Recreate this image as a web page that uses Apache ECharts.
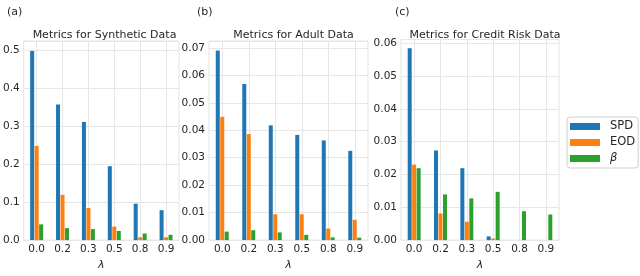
<!DOCTYPE html>
<html>
<head>
<meta charset="utf-8">
<script src="https://cdn.jsdelivr.net/npm/echarts@6/dist/echarts.min.js"></script>
<style>html,body{margin:0;padding:0;background:#fff;}#c{width:640px;height:276px;}</style>
</head>
<body>
<div id="c"></div>
<script>
const categories = ['0.0', '0.2', '0.3', '0.5', '0.8', '0.9'];
const seriesNames = ['SPD', 'EOD', 'β'];
const panelTitles = ['Metrics for Synthetic Data', 'Metrics for Adult Data', 'Metrics for Credit Risk Data'];
const panelLetters = ['(a)', '(b)', '(c)'];

const synSPD = [0.498, 0.357, 0.311, 0.1945, 0.096, 0.0787];
const synEOD = [0.2476, 0.119, 0.0845, 0.0356, 0.0075, 0.0075];
const synBeta = [0.0414, 0.0315, 0.029, 0.024, 0.0174, 0.014];

const adultSPD = [0.069, 0.0568, 0.0418, 0.0383, 0.0363, 0.0325];
const adultEOD = [0.0449, 0.0386, 0.0094, 0.0094, 0.0042, 0.0074];
const adultBeta = [0.0031, 0.0036, 0.0028, 0.0019, 0.001, 0.0009];

const creditSPD = [0.0584, 0.0273, 0.0219, 0.00115, 0, 0];
const creditEOD = [0.023, 0.0081, 0.0056, 0.0005, 0, 0];
const creditBeta = [0.0219, 0.0139, 0.0127, 0.0147, 0.0088, 0.0078];

const yMax = [0.524, 0.0725, 0.0611];
const yInterval = [0.1, 0.01, 0.01];
const yDecimals = [1, 2, 2];

const panels = [
  [synSPD, synEOD, synBeta],
  [adultSPD, adultEOD, adultBeta],
  [creditSPD, creditEOD, creditBeta]
];
const colors = ['#1f77b4', '#ff7f0e', '#2ca02c'];

const grids = [
  {left: 20, right: 461, top: 41, bottom: 24},
  {left: 209, right: 272, top: 41, bottom: 24},
  {left: 401, right: 81, top: 39.5, bottom: 24}
];
const font = 'DejaVu Sans';

const option = {
  animation: false,
  backgroundColor: '#fff',
  textStyle: {fontFamily: font},
  grid: grids.map(g => Object.assign({show: true, borderColor: '#e3e3e3', borderWidth: 1, backgroundColor: 'transparent'}, g)),
  title: [],
  xAxis: [],
  yAxis: [],
  series: [],
  legend: {
    orient: 'vertical',
    left: 567, top: 117,
    data: seriesNames,
    icon: 'rect',
    itemWidth: 30, itemHeight: 7, itemGap: 3,
    padding: [3, 3, 3, 3],
    borderColor: '#d0d0d0', borderWidth: 1, borderRadius: 3,
    backgroundColor: '#fff',
    textStyle: {fontFamily: font, fontSize: 11.5, color: '#262626', lineHeight: 13,
      rich: {
        n: {fontFamily: font, fontSize: 11.5, color: '#262626', lineHeight: 13, padding: [0, 0, 0, 5]},
        i: {fontFamily: font, fontStyle: 'italic', fontSize: 11.5, color: '#262626', lineHeight: 13, padding: [0, 0, 0, 5]}
      }},
    formatter: n => n === 'β' ? '{i|β}' : '{n|' + n + '}'
  }
};

grids.forEach((g, i) => {
  const w = 640 - g.left - g.right;
  option.title.push({
    text: panelTitles[i], left: g.left + w / 2, top: 25, textAlign: 'center',
    textStyle: {fontFamily: font, fontSize: 11, fontWeight: 'normal', color: '#262626'}
  });
  option.title.push({
    text: panelLetters[i], left: [2, 192, 390][i], top: 2,
    textStyle: {fontFamily: font, fontSize: 11, fontWeight: 'normal', color: '#262626'}
  });
  option.xAxis.push({
    type: 'category', gridIndex: i, data: categories,
    name: 'λ', nameLocation: 'middle', nameGap: 17,
    nameTextStyle: {fontFamily: font, fontSize: 11, fontStyle: 'italic', color: '#262626'},
    axisLine: {show: false}, axisTick: {show: false},
    axisLabel: {fontFamily: font, fontSize: 10.5, color: '#262626', margin: 4, interval: 0},
    splitLine: {show: true, interval: 0, alignWithLabel: true, lineStyle: {color: '#e6e6e6', width: 1}}
  });
  option.yAxis.push({
    type: 'value', gridIndex: i, min: 0, max: yMax[i], interval: yInterval[i],
    axisLine: {show: false}, axisTick: {show: false},
    axisLabel: {fontFamily: font, fontSize: 10.5, color: '#262626', margin: 4, showMaxLabel: false,
      formatter: v => v.toFixed(yDecimals[i])},
    splitLine: {show: true, lineStyle: {color: '#e6e6e6', width: 1}}
  });
  panels[i].forEach((vals, s) => {
    option.series.push({
      type: 'bar', name: seriesNames[s], xAxisIndex: i, yAxisIndex: i,
      data: vals, barWidth: 4, barGap: '12%',
      itemStyle: {color: colors[s]}
    });
  });
});

const chart = echarts.init(document.getElementById('c'), null, {renderer: 'canvas'});
chart.setOption(option);
</script>
</body>
</html>
